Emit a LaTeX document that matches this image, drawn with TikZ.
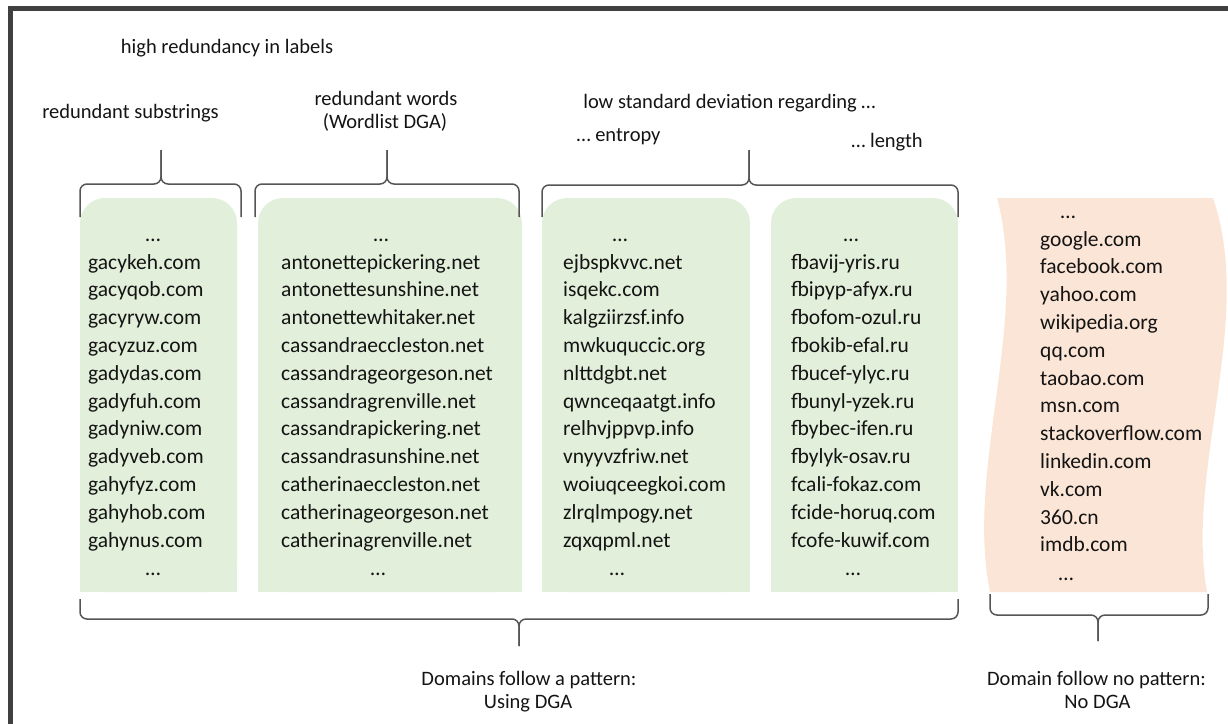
\documentclass[tikz,border=0pt]{standalone}
\usepackage{fontspec}
\setmainfont{Carlito}
\definecolor{dgafill}{HTML}{E2EFDA}
\definecolor{benignfill}{HTML}{FBE5D6}
\definecolor{ink}{HTML}{141414}
\definecolor{bracecol}{HTML}{555555}
\definecolor{framecol}{HTML}{404040}
\begin{document}
\begin{tikzpicture}[x=1pt,y=-1pt,
  txt/.style={text=ink, inner sep=0pt, font=\fontsize{21.5}{26}\selectfont},
  head/.style={text=ink, inner sep=0pt, font=\fontsize{20.5}{24}\selectfont, anchor=base},
  brace/.style={draw=bracecol, line width=1.5pt, rounded corners=7pt},
]
\useasboundingbox (0,0) rectangle (1228,723);
\clip (0,0) rectangle (1228,723);
% outer frame (runs past the right and bottom edges)
\draw[framecol, line width=5pt] (10.5,8.5) rectangle (1260,760);

% green panels with rounded top corners
\foreach \xa/\xb in {80/237, 258/522, 542/750, 771/958} {
  \fill[dgafill, rounded corners=25pt] (\xa,198) rectangle (\xb,592);
  \fill[dgafill] (\xa,300) rectangle (\xb,592);
}

% wavy panel for benign domains
\fill[benignfill] (997,198) -- (1213,198)
  .. controls (1255,320) and (1185,470) .. (1207,592)
  -- (990,592)
  .. controls (965,470) and (1030,320) .. (997,198) -- cycle;

% headings
\node[head] (hr) at (227,53) {high redundancy in labels};
\node[head] (rs) at (130.5,118) {redundant substrings};
\node[head] (rw) at (386,105) {redundant words};
\node[head] (wl) at (385,128) {(Wordlist DGA)};
\node[head] (sd) at (729.5,108) {low standard deviation regarding …};
\node[head] (en) at (618.5,141) {… entropy};
\node[head] (le) at (887,147) {… length};
\node[head] (dp) at (529,685) {Domains follow a pattern:};
\node[head] (ud) at (528,708) {Using DGA};
\node[head] (np) at (1096.5,685) {Domain follow no pattern:};
\node[head] (nd) at (1097.5,708) {No DGA};

% braces above the panels
\draw[brace] (80,217) -- (80,184) -- (161,184) -- (161,150);
\draw[brace] (241,217) -- (241,184) -- (161,184) -- (161,150);
\draw[brace] (255,217) -- (255,184) -- (387,184) -- (387,150);
\draw[brace] (519,217) -- (519,184) -- (387,184) -- (387,150);
\draw[brace] (542,217) -- (542,185) -- (749,185) -- (749,150);
\draw[brace] (958,217) -- (958,185) -- (749,185) -- (749,150);

% braces below the panels
\draw[brace] (80,599) -- (80,619) -- (519,619) -- (519,646);
\draw[brace] (958,599) -- (958,619) -- (519,619) -- (519,646);
\draw[brace] (990,594) -- (990,615) -- (1098,615) -- (1098,641);
\draw[brace] (1208,594) -- (1208,615) -- (1098,615) -- (1098,641);

% substring-based DGA domains
\node[txt, anchor=base] (sa) at (153,241) {…};
\foreach [count=\i] \d in {gacykeh.com, gacyqob.com, gacyryw.com, gacyzuz.com,
  gadydas.com, gadyfuh.com, gadyniw.com, gadyveb.com, gahyfyz.com,
  gahyhob.com, gahynus.com}
  \node[txt, anchor=base west] (s\i) at (88,{269+(\i-1)*27.8}) {\d};
\node[txt, anchor=base] (sb) at (153,575) {…};

% wordlist DGA domains
\node[txt, anchor=base] (wa) at (381,241) {…};
\foreach [count=\i] \d in {antonettepickering.net, antonettesunshine.net,
  antonettewhitaker.net, cassandraeccleston.net, cassandrageorgeson.net,
  cassandragrenville.net, cassandrapickering.net, cassandrasunshine.net,
  catherinaeccleston.net, catherinageorgeson.net, catherinagrenville.net}
  \node[txt, anchor=base west] (w\i) at (281,{269+(\i-1)*27.8}) {\d};
\node[txt, anchor=base] (wb) at (378,575) {…};

% low-entropy-deviation domains
\node[txt, anchor=base] (ea) at (620,241) {…};
\foreach [count=\i] \d in {ejbspkvvc.net, isqekc.com, kalgziirzsf.info,
  mwkuquccic.org, nlttdgbt.net, qwnceqaatgt.info, relhvjppvp.info,
  vnyyvzfriw.net, woiuqceegkoi.com, zlrqlmpogy.net, zqxqpml.net}
  \node[txt, anchor=base west] (e\i) at (563,{269+(\i-1)*27.8}) {\d};
\node[txt, anchor=base] (eb) at (617,575) {…};

% low-length-deviation domains
\node[txt, anchor=base] (la) at (851,241) {…};
\foreach [count=\i] \d in {fbavij-yris.ru, fbipyp-afyx.ru, fbofom-ozul.ru,
  fbokib-efal.ru, fbucef-ylyc.ru, fbunyl-yzek.ru, fbybec-ifen.ru,
  fbylyk-osav.ru, fcali-fokaz.com, fcide-horuq.com, fcofe-kuwif.com}
  \node[txt, anchor=base west] (l\i) at (791,{269+(\i-1)*27.8}) {\d};
\node[txt, anchor=base] (lb) at (853,575) {…};

% benign domains
\node[txt, anchor=base] (na) at (1068,218) {…};
\foreach [count=\i] \d in {google.com, facebook.com, yahoo.com, wikipedia.org,
  qq.com, taobao.com, msn.com, stackoverflow.com, linkedin.com, vk.com,
  360.cn, imdb.com}
  \node[txt, anchor=base west] (n\i) at (1040,{246+(\i-1)*27.8}) {\d};
\node[txt, anchor=base] (nb) at (1066,580) {…};
\end{tikzpicture}
\end{document}
